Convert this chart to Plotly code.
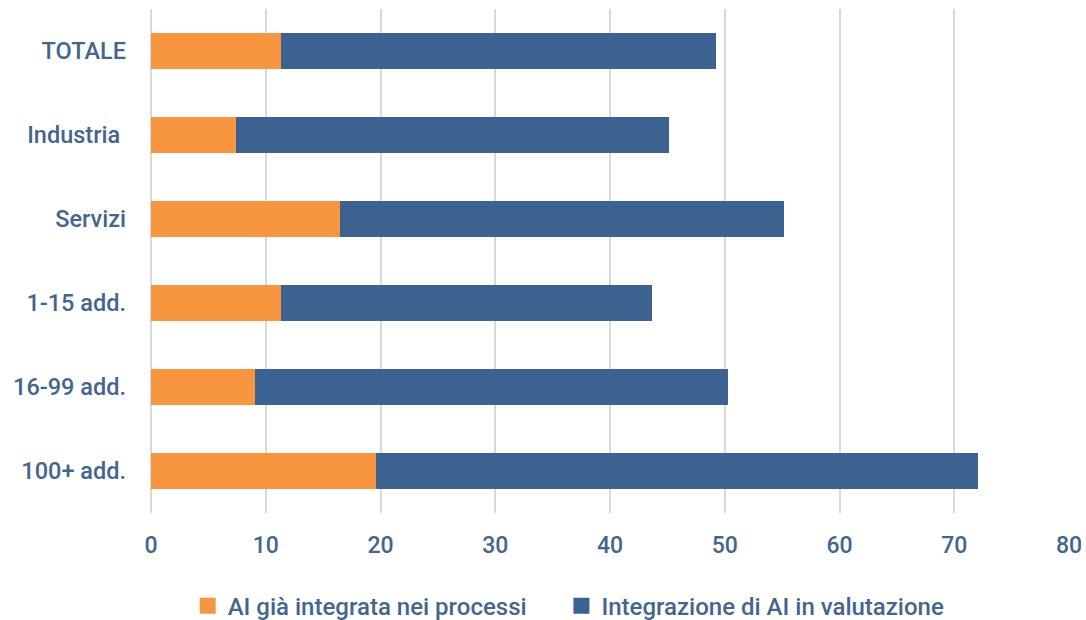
import plotly.graph_objects as go

categories = ['TOTALE', 'Industria ', 'Servizi', '1-15 add.', '16-99 add.', '100+ add.']
integrata = [11.3, 7.4, 16.5, 11.3, 9.1, 19.6]
totale = [49.2, 45.1, 55.2, 43.7, 50.3, 72.1]
valutazione = [round(t - a, 1) for t, a in zip(totale, integrata)]
series_names = ['AI già integrata nei processi', 'Integrazione di AI in valutazione']
colors = ['#f7963f', '#3c6292']

text_color = '#44658f'
font = dict(family='Roboto', size=23.5, color=text_color, weight=500)

fig = go.Figure()
for vals, name, col in zip([integrata, valutazione], series_names, colors):
    fig.add_trace(go.Bar(y=categories, x=vals, orientation='h', name=name,
                         showlegend=False, legendgroup=name,
                         marker=dict(color=col, line=dict(width=0))))
# legend-only entries so the legend keys are larger squares
# (first label padded with nbsp to widen the gap between entries)
for i, (name, col) in enumerate(zip(series_names, colors)):
    label = name + '\u00a0' * 5 if i == 0 else name
    fig.add_trace(go.Scatter(x=[None], y=[None], mode='markers', name=label,
                             legendgroup=name,
                             marker=dict(symbol='square', size=16, color=col)))

fig.update_layout(
    barmode='stack',
    bargap=0.58,
    width=1086, height=620,
    margin=dict(l=151, r=17, t=9, b=107, autoexpand=False),
    plot_bgcolor='white', paper_bgcolor='white',
    font=font,
    legend=dict(orientation='h', x=0.455, xanchor='center', y=-0.14, yanchor='top',
                font=dict(family='Roboto', size=24, color=text_color, weight=500),
                itemwidth=30, traceorder='normal'),
)
fig.update_xaxes(range=[0, 80], dtick=10, showgrid=True, gridcolor='#d9d9d9', gridwidth=2,
                 zeroline=True, zerolinecolor='#d9d9d9', zerolinewidth=2,
                 showline=False, ticks='', ticklabelstandoff=16, automargin=False,
                 tickfont=dict(family='Roboto', size=23, color=text_color, weight=500))
fig.update_yaxes(autorange='reversed', showgrid=False, showline=False, ticks='',
                 ticklabelstandoff=24, automargin=False,
                 tickfont=font)

# drop the default 8px body margin so the figure fills the window
fig.write_html('out.html', config={'displayModeBar': False},
               post_script="document.body.style.margin='0';")
